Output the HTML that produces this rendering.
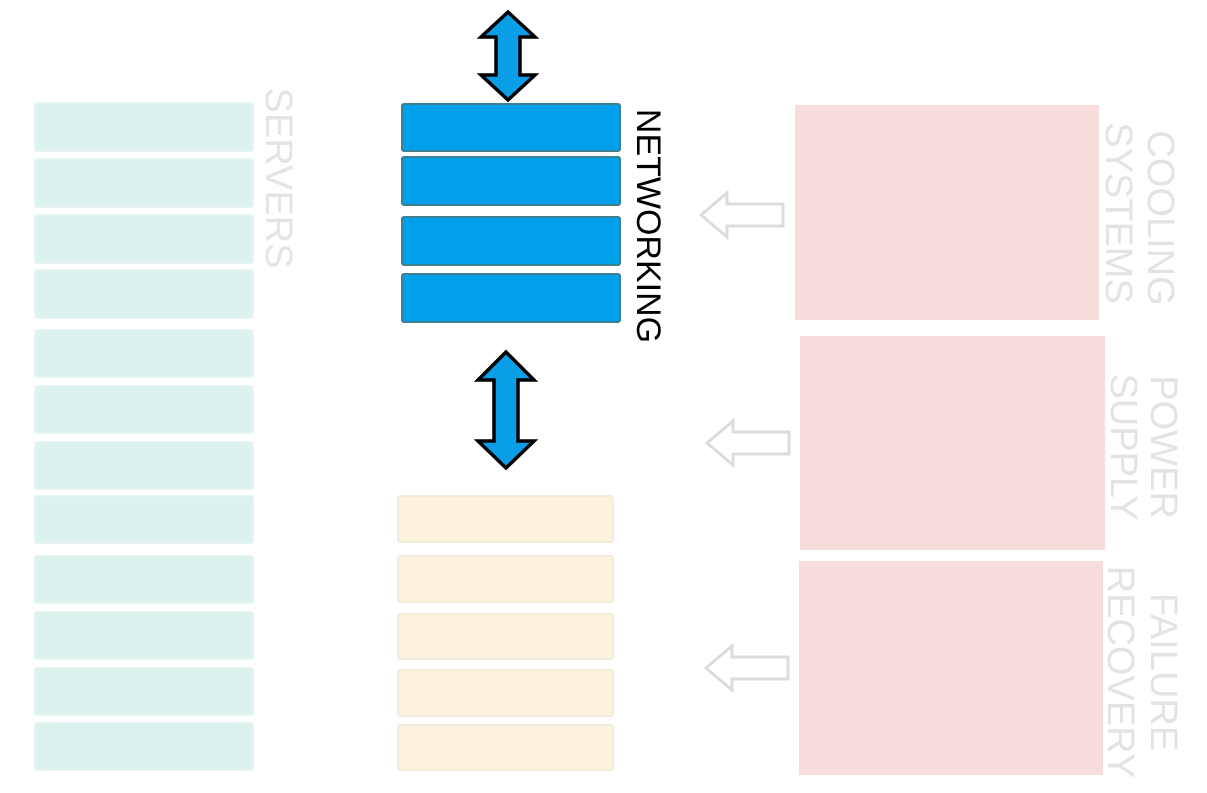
<!DOCTYPE html>
<html><head><meta charset="utf-8"><style>html,body{margin:0;padding:0;background:#fff;}svg{display:block}</style></head>
<body>
<svg width="1207" height="793" viewBox="0 0 1207 793" xmlns="http://www.w3.org/2000/svg" font-family="Liberation Sans, sans-serif">
<rect width="1207" height="793" fill="#fff"/>
<g fill="#dcf2ee" stroke="#e6f4f1" stroke-width="2">
<rect x="35" y="103" width="218" height="48" rx="2"/>
<rect x="35" y="159" width="218" height="48" rx="2"/>
<rect x="35" y="215" width="218" height="48" rx="2"/>
<rect x="35" y="270" width="218" height="48" rx="2"/>
<rect x="35" y="330" width="218" height="47" rx="2"/>
<rect x="35" y="386" width="218" height="47" rx="2"/>
<rect x="35" y="442" width="218" height="47" rx="2"/>
<rect x="35" y="496" width="218" height="47" rx="2"/>
<rect x="35" y="556" width="218" height="47" rx="2"/>
<rect x="35" y="612" width="218" height="47" rx="2"/>
<rect x="35" y="668" width="218" height="47" rx="2"/>
<rect x="35" y="723" width="218" height="47" rx="2"/>
</g>
<text transform="translate(266,178) rotate(90)" text-anchor="middle" font-size="38" fill="#e4e4e4">SERVERS</text>
<g fill="#00a0ea" stroke="#3d7f93" stroke-width="2">
<rect x="402" y="104" width="218" height="47" rx="2"/>
<rect x="402" y="157" width="218" height="48" rx="2"/>
<rect x="402" y="217" width="218" height="48" rx="2"/>
<rect x="402" y="274" width="218" height="48" rx="2"/>
</g>
<text transform="translate(637,226) rotate(90)" text-anchor="middle" font-size="34" fill="#000">NETWORKING</text>
<g fill="#0a9ee6" stroke="#000" stroke-width="3.5" stroke-linejoin="miter">
<path d="M508 12 L535 37 L520 37 L520 75 L535 75 L508 100 L481 75 L496 75 L496 37 L481 37 Z"/>
<path d="M506 352 L534 380 L518 380 L518 441 L534 441 L506 468 L478 441 L494 441 L494 380 L478 380 Z"/>
</g>
<g fill="#fdf3dc" stroke="#f2ecdf" stroke-width="2">
<rect x="398" y="496" width="215" height="46" rx="2"/>
<rect x="398" y="556" width="215" height="46" rx="2"/>
<rect x="398" y="614" width="215" height="45" rx="2"/>
<rect x="398" y="670" width="215" height="46" rx="2"/>
<rect x="398" y="725" width="215" height="45" rx="2"/>
</g>
<g fill="#f7dcdc">
<rect x="795" y="105" width="304" height="215"/>
<rect x="800" y="336" width="305" height="214"/>
<rect x="799" y="561" width="304" height="214"/>
</g>
<g fill="none" stroke="#dcdcdc" stroke-width="3">
<path d="M701 215 L727 193 L727 204 L783 204 L783 226 L727 226 L727 237 Z"/>
<path d="M707 443 L733 421 L733 432 L789 432 L789 454 L733 454 L733 465 Z"/>
<path d="M706 668 L732 646 L732 657 L788 657 L788 679 L732 679 L732 690 Z"/>
</g>
<g font-size="38" fill="#e3e3e3" text-anchor="middle">
<text transform="translate(1148,218) rotate(90)">COOLING</text>
<text transform="translate(1106,213) rotate(90)">SYSTEMS</text>
<text transform="translate(1151,447) rotate(90)">POWER</text>
<text transform="translate(1111,447) rotate(90)">SUPPLY</text>
<text transform="translate(1151,672) rotate(90)">FAILURE</text>
<text transform="translate(1108,672) rotate(90)">RECOVERY</text>
</g>
</svg>
</body></html>
